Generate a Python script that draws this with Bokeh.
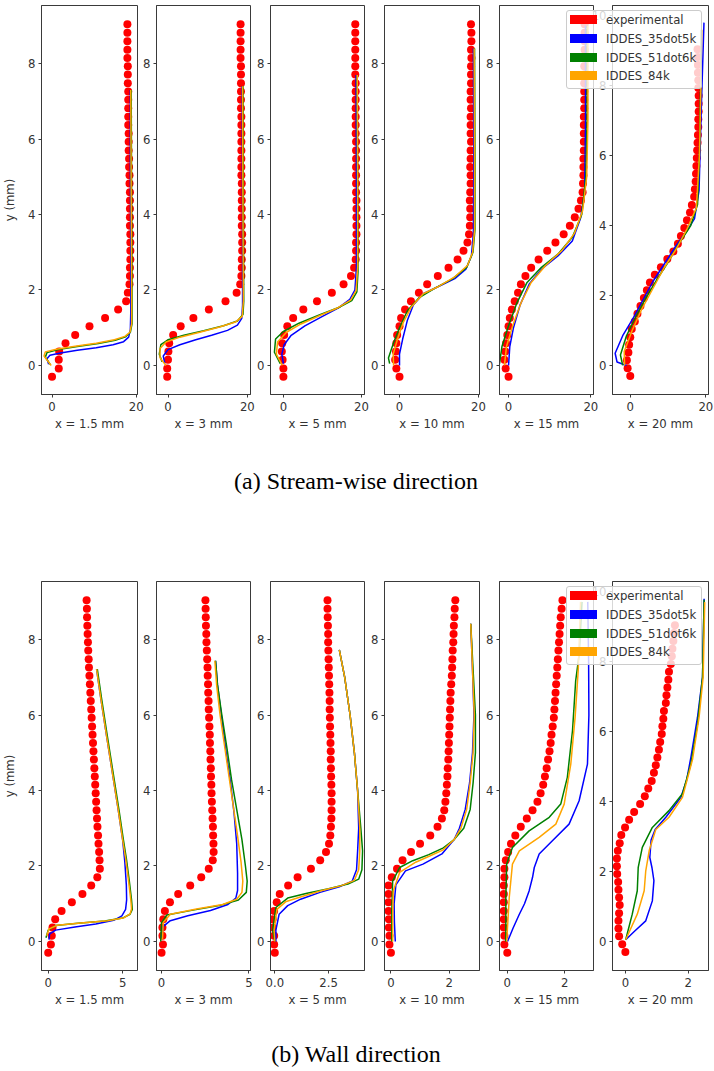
from bokeh.embed import file_html
from bokeh.layouts import column, row
from bokeh.models import Div, FixedTicker, NumeralTickFormatter, Range1d
from bokeh.plotting import figure
from bokeh.resources import INLINE

# heights (mm) of the experimental probe points, same at every station
y_exp = [-0.30, -0.08, 0.15, 0.37, 0.59, 0.81, 1.04, 1.26, 1.48, 1.70,
         1.93, 2.15, 2.37, 2.59, 2.81, 3.04, 3.26, 3.48, 3.70, 3.93,
         4.15, 4.37, 4.59, 4.82, 5.04, 5.26, 5.48, 5.70, 5.93, 6.15,
         6.37, 6.59, 6.82, 7.04, 7.26, 7.48, 7.71, 7.93, 8.15, 8.37,
         8.59, 8.82, 9.04]

stations = ["x = 1.5 mm", "x = 3 mm", "x = 5 mm", "x = 10 mm", "x = 15 mm", "x = 20 mm"]
series = ["experimental", "IDDES_35dot5k", "IDDES_51dot6k", "IDDES_84k"]
series_colors = ["red", "blue", "green", "orange"]

y_ticks = [0, 2, 4, 6, 8]
y_ticks_last = [0, 2, 4, 6, 8, 10]
sw_x_ticks = [[0, 20], [0, 20], [0, 20], [0, 20], [0, 20], [0, 20]]
wl_x_ticks = [[0, 5], [0, 5], [0, 2.5], [0, 2], [0, 2], [0, 2]]
sw_x_fmt = ["0", "0", "0", "0", "0", "0"]
wl_x_fmt = ["0", "0", "0.0", "0", "0", "0"]

sw_x_lim = [(-2.5, 20.3), (-2.9, 20.8), (-3.3, 20.76), (-3.8, 20.25), (-2.2, 20.65), (-4.7, 20.7)]
wl_x_lim = [(-0.45, 6.0), (-0.29, 5.09), (-0.2, 4.17), (-0.22, 3.04), (-0.27, 3.0), (-0.41, 2.65)]
y_lim = (-0.77, 9.54)
y_lim_last = (-0.83, 10.29)

# ---- (a) stream-wise velocity, experimental points
sw_x1p5_exp = [0.0, 1.6, 1.6, 1.7, 3.2, 5.5, 8.9, 12.6, 15.7, 17.6,
               18.0, 18.4, 18.5, 18.5, 18.6, 18.6, 18.6, 18.6, 18.5, 18.5,
               18.5, 18.5, 18.5, 18.4, 18.4, 18.3, 18.3, 18.2, 18.2, 18.2,
               18.1, 18.1, 18.1, 18.1, 18.1, 18.0, 18.0, 18.0, 17.9, 17.9,
               17.9, 17.9, 17.9]
sw_x3_exp = [-0.2, -0.2, 0.0, 0.1, 0.3, 1.3, 3.2, 6.4, 10.3, 14.5,
             17.3, 18.2, 18.5, 18.6, 18.6, 18.7, 18.7, 18.7, 18.6, 18.6,
             18.6, 18.6, 18.6, 18.6, 18.5, 18.5, 18.5, 18.5, 18.5, 18.5,
             18.5, 18.5, 18.4, 18.4, 18.4, 18.4, 18.4, 18.4, 18.3, 18.3,
             18.3, 18.3, 18.3]
sw_x5_exp = [0.0, 0.0, -0.2, -0.4, -0.3, 0.2, 1.0, 2.5, 5.1, 8.6,
             12.4, 15.4, 17.3, 18.1, 18.5, 18.6, 18.6, 18.7, 18.7, 18.7,
             18.7, 18.7, 18.6, 18.6, 18.6, 18.6, 18.6, 18.6, 18.6, 18.5,
             18.5, 18.5, 18.5, 18.5, 18.5, 18.5, 18.4, 18.4, 18.4, 18.4,
             18.4, 18.4, 18.4]
sw_x10_exp = [0.0, -0.8, -1.1, -0.9, -0.8, -0.6, 0.0, 0.4, 1.4, 2.9,
              4.9, 7.0, 9.7, 12.4, 14.7, 16.2, 17.2, 17.6, 17.8, 17.9,
              17.9, 17.8, 17.9, 18.0, 18.0, 17.9, 18.0, 18.0, 18.1, 18.0,
              18.0, 18.0, 18.1, 18.0, 18.0, 18.1, 18.1, 18.1, 18.2, 18.1,
              18.2, 18.2, 18.1]
sw_x15_exp = [0.0, -0.7, -1.0, -0.8, -0.6, -0.3, 0.0, 0.3, 0.8, 1.5,
              2.3, 3.0, 4.1, 5.5, 7.3, 9.4, 11.4, 13.4, 14.9, 16.1,
              17.0, 17.6, 18.0, 18.1, 18.2, 18.2, 18.2, 18.3, 18.3, 18.3,
              18.3, 18.3, 18.4, 18.4, 18.4, 18.4, 18.4, 18.4, 18.4, 18.5,
              18.5, 18.5, 18.5]
sw_x20_exp = [0.0, -0.7, -0.9, -0.5, -0.3, 0.0, 0.4, 1.2, 1.9, 2.7,
              3.6, 4.4, 5.2, 6.5, 8.1, 9.8, 11.4, 12.6, 13.4, 14.3,
              15.0, 15.8, 16.3, 16.9, 17.1, 17.3, 17.4, 17.5, 17.6, 17.7,
              17.8, 17.9, 18.0, 18.0, 18.1, 18.1, 18.1, 18.0, 18.0, 17.9,
              17.9, 17.9, 17.8]

# ---- (a) stream-wise velocity, IDDES runs as (u, y) pairs
sw_x1p5_k35 = [(-0.8, 0.03), (-1.2, 0.18), (-0.5, 0.27), (2.0, 0.33), (6.0, 0.40), (10.5, 0.47), (14.5, 0.55),
               (17.0, 0.63), (18.2, 0.75), (18.6, 0.95), (18.7, 1.4), (18.7, 3.0), (18.6, 5.5), (18.6, 7.3)]
sw_x1p5_k51 = [(-0.4, 0.02), (-1.6, 0.22), (-1.2, 0.34), (1.5, 0.42), (6.0, 0.50), (11.0, 0.58), (15.0, 0.67),
               (17.5, 0.76), (18.6, 0.88), (19.0, 1.1), (19.0, 2.0), (18.9, 4.5), (18.8, 7.3)]
sw_x1p5_k84 = [(-0.2, 0.0), (-1.9, 0.25), (-1.6, 0.36), (1.0, 0.43), (5.5, 0.51), (10.5, 0.59), (14.8, 0.68),
               (17.3, 0.77), (18.5, 0.88), (18.9, 1.1), (18.9, 2.0), (18.8, 4.5), (18.7, 7.3)]

sw_x3_k35 = [(-0.8, 0.05), (-1.2, 0.25), (0.0, 0.42), (3.0, 0.55), (7.0, 0.68), (11.0, 0.80), (15.0, 0.93),
             (17.5, 1.07), (18.6, 1.25), (18.8, 1.6), (18.8, 4.0), (18.7, 7.4)]
sw_x3_k51 = [(-1.5, 0.10), (-2.2, 0.30), (-1.8, 0.55), (0.0, 0.68), (4.0, 0.80), (9.0, 0.92), (14.0, 1.05),
             (17.5, 1.18), (18.9, 1.35), (19.1, 1.7), (19.0, 4.0), (18.9, 7.4)]
sw_x3_k84 = [(-0.5, 0.0), (-2.0, 0.20), (-2.0, 0.45), (-0.5, 0.62), (3.0, 0.75), (8.0, 0.88), (13.0, 1.02),
             (17.0, 1.15), (18.7, 1.3), (19.0, 1.7), (18.9, 4.0), (18.8, 7.4)]

sw_x5_k35 = [(0.0, 0.05), (-0.4, 0.30), (0.2, 0.55), (2.0, 0.80), (5.5, 1.05), (10.0, 1.30), (14.0, 1.52),
             (17.0, 1.75), (18.3, 2.0), (18.7, 2.6), (18.7, 5.0), (18.6, 7.7)]
sw_x5_k51 = [(-0.8, 0.05), (-2.3, 0.35), (-2.0, 0.70), (0.0, 0.90), (4.0, 1.12), (9.5, 1.35), (14.5, 1.55),
             (17.5, 1.72), (18.8, 1.95), (19.1, 2.5), (19.0, 5.0), (18.9, 7.7)]
sw_x5_k84 = [(-0.3, 0.0), (-1.8, 0.30), (-1.5, 0.62), (0.8, 0.88), (4.5, 1.10), (9.5, 1.33), (14.0, 1.53),
             (17.2, 1.73), (18.6, 1.98), (19.0, 2.6), (19.0, 5.0), (18.9, 7.7)]

sw_x10_k35 = [(0.0, 0.0), (0.0, 0.3), (0.8, 0.7), (2.0, 1.2), (3.5, 1.6), (6.0, 1.9), (10.0, 2.1),
              (14.0, 2.3), (16.8, 2.55), (18.2, 2.9), (18.7, 3.5), (18.8, 5.5), (18.7, 8.4)]
sw_x10_k51 = [(-2.5, 0.05), (-2.8, 0.2), (-1.5, 0.6), (0.0, 1.0), (2.0, 1.45), (5.0, 1.8), (9.0, 2.05),
              (13.5, 2.3), (17.0, 2.6), (18.6, 3.0), (19.1, 3.6), (19.1, 5.5), (19.0, 8.4)]
sw_x10_k84 = [(-1.5, 0.0), (-1.6, 0.3), (-0.5, 0.7), (1.0, 1.15), (3.0, 1.55), (6.0, 1.9), (10.0, 2.1),
              (14.0, 2.35), (17.2, 2.65), (18.5, 3.0), (19.0, 3.6), (19.0, 5.5), (18.9, 8.4)]

sw_x15_k35 = [(0.0, 0.0), (0.3, 0.5), (1.2, 1.0), (2.8, 1.6), (5.0, 2.15), (8.0, 2.55), (12.0, 2.9),
              (15.5, 3.3), (17.5, 3.9), (18.5, 4.6), (18.7, 6.5), (18.7, 9.0)]
sw_x15_k51 = [(-2.2, 0.05), (-1.6, 0.5), (0.0, 1.05), (2.0, 1.65), (4.5, 2.2), (8.0, 2.6), (12.0, 2.95),
              (15.5, 3.4), (17.8, 4.0), (18.8, 5.0), (19.1, 6.5), (19.1, 9.0)]
sw_x15_k84 = [(-1.0, 0.0), (-0.5, 0.5), (1.0, 1.05), (3.0, 1.65), (5.5, 2.2), (9.0, 2.65), (13.0, 3.05),
              (16.0, 3.5), (18.0, 4.1), (19.0, 5.0), (19.3, 6.5), (19.3, 9.0)]

sw_x20_k35 = [(-1.0, 0.0), (-3.5, 0.1), (-4.0, 0.35), (-2.0, 0.85), (0.5, 1.3), (3.0, 1.8), (6.0, 2.4),
              (9.0, 2.9), (12.0, 3.4), (15.0, 3.85), (17.0, 4.2), (18.2, 5.0), (18.7, 7.0), (19.5, 9.8)]
sw_x20_k51 = [(-2.0, 0.0), (-2.6, 0.3), (-1.0, 0.85), (1.5, 1.4), (4.0, 1.9), (7.0, 2.45), (10.0, 2.95),
              (13.0, 3.5), (16.0, 4.0), (17.8, 4.6), (18.3, 6.0), (18.6, 8.0), (18.8, 9.6)]
sw_x20_k84 = [(-1.5, 0.0), (-1.6, 0.4), (0.5, 1.0), (3.0, 1.6), (6.0, 2.2), (9.0, 2.8), (12.0, 3.3),
              (15.0, 3.9), (17.5, 4.5), (18.3, 6.0), (18.7, 8.0), (18.9, 9.6)]

# ---- (b) wall-normal velocity, experimental points
wl_x1p5_exp = [0.0, 0.18, 0.24, 0.29, 0.47, 0.9, 1.59, 2.3, 2.89, 3.3,
               3.47, 3.45, 3.42, 3.38, 3.35, 3.31, 3.28, 3.25, 3.22, 3.19,
               3.16, 3.13, 3.10, 3.07, 3.04, 3.01, 2.98, 2.95, 2.92, 2.89,
               2.86, 2.83, 2.80, 2.77, 2.74, 2.72, 2.69, 2.67, 2.65, 2.63,
               2.61, 2.60, 2.58]
wl_x3_exp = [0.0, 0.08, 0.05, 0.05, 0.1, 0.19, 0.48, 0.95, 1.64, 2.27,
             2.7, 2.93, 2.98, 2.97, 2.95, 2.94, 2.92, 2.90, 2.88, 2.86,
             2.85, 2.83, 2.82, 2.80, 2.79, 2.77, 2.76, 2.74, 2.72, 2.70,
             2.69, 2.67, 2.66, 2.64, 2.63, 2.61, 2.59, 2.57, 2.56, 2.54,
             2.53, 2.52, 2.51]
wl_x5_exp = [0.0, -0.03, -0.03, -0.1, -0.1, -0.03, 0.09, 0.23, 0.62, 1.06,
             1.68, 2.11, 2.38, 2.52, 2.58, 2.61, 2.63, 2.64, 2.64, 2.64,
             2.63, 2.62, 2.61, 2.60, 2.60, 2.59, 2.58, 2.57, 2.56, 2.55,
             2.55, 2.54, 2.53, 2.52, 2.51, 2.50, 2.49, 2.48, 2.48, 2.47,
             2.46, 2.45, 2.45]
wl_x10_exp = [0.0, -0.05, -0.05, -0.07, -0.07, -0.08, -0.08, -0.08, -0.08, 0.03,
              0.21, 0.40, 0.69, 1.00, 1.35, 1.60, 1.75, 1.83, 1.87, 1.90,
              1.92, 1.94, 1.95, 1.97, 1.98, 1.99, 2.00, 2.01, 2.02, 2.03,
              2.04, 2.05, 2.07, 2.09, 2.10, 2.11, 2.12, 2.14, 2.15, 2.16,
              2.18, 2.19, 2.21]
wl_x15_exp = [0.0, -0.1, -0.1, -0.12, -0.12, -0.12, -0.12, -0.12, -0.12, -0.1,
              -0.1, -0.05, 0.03, 0.13, 0.28, 0.47, 0.68, 0.88, 1.05, 1.16,
              1.25, 1.31, 1.37, 1.42, 1.47, 1.51, 1.54, 1.58, 1.62, 1.64,
              1.66, 1.68, 1.70, 1.72, 1.74, 1.76, 1.78, 1.80, 1.82, 1.84,
              1.86, 1.89, 1.92]
wl_x20_exp = [0.0, -0.1, -0.2, -0.22, -0.22, -0.2, -0.18, -0.2, -0.22, -0.23,
              -0.26, -0.27, -0.27, -0.24, -0.18, -0.13, -0.01, 0.12, 0.28, 0.47,
              0.62, 0.73, 0.84, 0.91, 0.97, 1.02, 1.07, 1.11, 1.16, 1.18,
              1.21, 1.23, 1.29, 1.31, 1.34, 1.37, 1.39, 1.45, 1.48, 1.50,
              1.53, 1.55, 1.58]

# ---- (b) wall-normal velocity, IDDES runs as (v, y) pairs
wl_x1p5_k35 = [(0.05, 0.05), (0.1, 0.2), (0.5, 0.3), (1.8, 0.38), (3.2, 0.46), (4.4, 0.56), (4.95, 0.68),
               (5.2, 0.85), (5.27, 1.1), (5.25, 1.5), (5.15, 2.1), (5.0, 2.7), (4.7, 3.5), (4.3, 4.5),
               (3.9, 5.5), (3.55, 6.4), (3.25, 7.22)]
wl_x1p5_k51 = [(-0.15, 0.1), (0.0, 0.3), (0.5, 0.42), (2.0, 0.48), (3.8, 0.54), (5.0, 0.62), (5.5, 0.72),
               (5.65, 0.85), (5.6, 1.1), (5.45, 1.6), (5.25, 2.2), (5.05, 2.7), (4.75, 3.5), (4.35, 4.5),
               (3.95, 5.5), (3.6, 6.4), (3.3, 7.22)]
wl_x1p5_k84 = [(-0.1, 0.15), (0.05, 0.33), (0.6, 0.43), (2.2, 0.49), (4.0, 0.55), (5.1, 0.63), (5.5, 0.73),
               (5.6, 0.86), (5.55, 1.1), (5.4, 1.6), (5.2, 2.2), (5.0, 2.7), (4.7, 3.5), (4.3, 4.5),
               (3.9, 5.5), (3.55, 6.4), (3.25, 7.22)]

wl_x3_k35 = [(0.0, 0.1), (0.1, 0.4), (0.5, 0.55), (1.5, 0.68), (2.8, 0.82), (3.8, 0.98), (4.25, 1.15),
             (4.35, 1.35), (4.35, 1.8), (4.3, 2.6), (4.15, 3.4), (3.95, 4.2), (3.7, 5.0), (3.45, 5.9),
             (3.2, 6.8), (3.09, 7.44)]
wl_x3_k51 = [(-0.05, 0.0), (0.0, 0.5), (0.3, 0.7), (1.8, 0.83), (3.3, 0.95), (4.4, 1.1), (4.85, 1.3),
             (4.9, 1.6), (4.8, 2.0), (4.6, 2.7), (4.3, 3.5), (4.0, 4.3), (3.75, 5.1), (3.45, 6.0),
             (3.2, 6.8), (3.09, 7.44)]
wl_x3_k84 = [(0.05, 0.05), (0.1, 0.5), (0.5, 0.72), (2.0, 0.86), (3.5, 0.98), (4.3, 1.12), (4.6, 1.3),
             (4.65, 1.6), (4.55, 2.1), (4.35, 2.8), (4.1, 3.6), (3.85, 4.4), (3.6, 5.2), (3.35, 6.0),
             (3.15, 6.8), (3.05, 7.44)]

wl_x5_k35 = [(0.05, 0.0), (0.05, 0.3), (0.2, 0.72), (0.6, 0.95), (1.2, 1.12), (2.1, 1.3), (3.0, 1.45),
             (3.6, 1.6), (3.8, 1.9), (3.85, 2.4), (3.9, 3.0), (3.85, 4.0), (3.7, 5.0), (3.5, 6.0),
             (3.25, 7.0), (3.0, 7.73)]
wl_x5_k51 = [(0.0, 0.0), (-0.1, 0.3), (0.05, 0.9), (0.6, 1.15), (1.5, 1.28), (2.5, 1.4), (3.4, 1.52),
             (3.9, 1.65), (4.05, 1.9), (4.08, 2.4), (4.0, 3.0), (3.85, 4.0), (3.7, 5.0), (3.5, 6.0),
             (3.25, 7.0), (3.0, 7.73)]
wl_x5_k84 = [(0.0, 0.0), (-0.03, 0.3), (0.1, 0.85), (0.5, 1.05), (1.3, 1.2), (2.2, 1.35), (3.1, 1.48),
             (3.7, 1.62), (3.9, 1.9), (3.95, 2.4), (3.95, 3.0), (3.85, 4.0), (3.7, 5.0), (3.5, 6.0),
             (3.25, 7.0), (3.0, 7.73)]

wl_x10_k35 = [(0.15, 0.0), (0.12, 0.5), (0.11, 1.0), (0.17, 1.5), (0.5, 1.87), (1.1, 2.05), (1.75, 2.32),
              (2.17, 2.7), (2.35, 3.0), (2.55, 3.5), (2.7, 4.2), (2.8, 5.0), (2.85, 6.0), (2.8, 7.2), (2.74, 8.42)]
wl_x10_k51 = [(0.03, 0.0), (0.03, 0.8), (0.06, 1.6), (0.3, 1.96), (0.75, 2.14), (1.3, 2.3), (1.8, 2.48),
              (2.17, 2.7), (2.5, 3.0), (2.72, 3.5), (2.82, 4.2), (2.9, 5.0), (2.9, 6.0), (2.82, 7.2), (2.74, 8.42)]
wl_x10_k84 = [(0.06, 0.0), (0.06, 0.7), (0.08, 1.34), (0.3, 1.83), (0.85, 2.1), (1.35, 2.27), (1.78, 2.42),
              (2.17, 2.7), (2.4, 3.0), (2.6, 3.5), (2.72, 4.2), (2.82, 5.0), (2.86, 6.0), (2.8, 7.2), (2.74, 8.42)]

wl_x15_k35 = [(0.01, 0.0), (0.2, 0.35), (0.42, 0.72), (0.6, 1.0), (0.76, 1.34), (0.88, 1.7), (0.94, 1.96),
              (1.11, 2.32), (1.57, 2.67), (2.15, 3.11), (2.5, 3.73), (2.79, 4.7), (2.84, 6.0), (2.83, 7.44),
              (2.8, 9.0)]
wl_x15_k51 = [(-0.05, 0.0), (-0.05, 1.17), (-0.02, 2.05), (0.18, 2.49), (0.76, 2.93), (1.46, 3.29),
              (1.86, 3.64), (2.09, 4.35), (2.27, 5.59), (2.38, 6.91), (2.5, 7.6), (2.6, 9.0)]
wl_x15_k84 = [(-0.02, 0.0), (0.07, 1.17), (0.18, 2.05), (0.42, 2.4), (1.11, 2.76), (1.69, 3.11),
              (1.98, 3.64), (2.21, 4.7), (2.36, 5.94), (2.47, 7.2), (2.55, 9.0)]

wl_x20_k35 = [(0.01, 0.05), (0.3, 0.3), (0.65, 0.59), (0.86, 1.16), (0.91, 1.74), (0.85, 2.1), (0.78, 2.4),
              (0.82, 2.9), (0.95, 3.2), (1.29, 3.55), (1.77, 4.12), (1.95, 4.6), (2.09, 5.27), (2.3, 6.41),
              (2.46, 7.56), (2.51, 9.8)]
wl_x20_k51 = [(0.01, 0.05), (0.22, 0.78), (0.38, 1.45), (0.41, 2.12), (0.54, 2.69), (0.86, 3.26),
              (1.39, 3.74), (1.82, 4.22), (2.09, 5.08), (2.3, 6.22), (2.46, 7.56), (2.51, 9.77)]
wl_x20_k84 = [(0.01, 0.05), (0.38, 0.78), (0.6, 1.45), (0.65, 2.02), (0.76, 2.6), (0.97, 3.2),
              (1.39, 3.55), (1.82, 4.12), (2.14, 5.2), (2.35, 6.41), (2.48, 7.56), (2.53, 9.7)]

sw_exp = [sw_x1p5_exp, sw_x3_exp, sw_x5_exp, sw_x10_exp, sw_x15_exp, sw_x20_exp]
sw_runs = [[sw_x1p5_k35, sw_x1p5_k51, sw_x1p5_k84], [sw_x3_k35, sw_x3_k51, sw_x3_k84],
           [sw_x5_k35, sw_x5_k51, sw_x5_k84], [sw_x10_k35, sw_x10_k51, sw_x10_k84],
           [sw_x15_k35, sw_x15_k51, sw_x15_k84], [sw_x20_k35, sw_x20_k51, sw_x20_k84]]
wl_exp = [wl_x1p5_exp, wl_x3_exp, wl_x5_exp, wl_x10_exp, wl_x15_exp, wl_x20_exp]
wl_runs = [[wl_x1p5_k35, wl_x1p5_k51, wl_x1p5_k84], [wl_x3_k35, wl_x3_k51, wl_x3_k84],
           [wl_x5_k35, wl_x5_k51, wl_x5_k84], [wl_x10_k35, wl_x10_k51, wl_x10_k84],
           [wl_x15_k35, wl_x15_k51, wl_x15_k84], [wl_x20_k35, wl_x20_k51, wl_x20_k84]]

FONT = "DejaVu Sans"
FONT_SIZE = "11.7px"
TXT = "#333333"
AX = "#3a3a3a"

# where each panel frame sits on the page (px) - panels overlap through
# transparent borders, so the frames can be put exactly where they belong
frame_x = [39, 154, 268, 382, 497, 610]
frame_w = [96, 94, 94, 95, 94, 96]
border_l = [39, 24, 24, 24, 24, 28]
border_r = 8
legend_x, legend_w, legend_h = 564, 136, 79


def make_panel(i, exp_u, runs, x_lim, x_ticks, x_fmt, shift):
    last = i == len(stations) - 1
    p = figure(x_range=Range1d(*x_lim), y_range=Range1d(*(y_lim_last if last else y_lim)),
               frame_width=frame_w[i], frame_height=389,
               min_border_left=border_l[i], min_border_right=border_r,
               min_border_top=5, min_border_bottom=40,
               x_axis_label=stations[i], y_axis_label="y (mm)" if i == 0 else None,
               title=None, output_backend="svg", toolbar_location=None,
               margin=(0, 0, 0, shift))
    p.grid.visible = False
    p.outline_line_color = AX
    p.border_fill_alpha = 0

    p.scatter(exp_u, y_exp, size=8, fill_color=series_colors[0], line_color=None)
    for run, color in zip(runs, series_colors[1:]):
        u, y = zip(*run)
        p.line(list(u), list(y), line_color=color, line_width=1.5)

    for ax in p.axis:
        ax.axis_line_color = AX
        ax.major_tick_line_color = AX
        ax.major_tick_out = 3
        ax.major_tick_in = 0
        ax.minor_tick_line_color = None
        ax.major_label_text_font = FONT
        ax.major_label_text_font_size = FONT_SIZE
        ax.major_label_text_color = TXT
        ax.axis_label_text_font = FONT
        ax.axis_label_text_font_size = FONT_SIZE
        ax.axis_label_text_font_style = "normal"
        ax.axis_label_text_color = TXT
    p.xaxis.ticker = FixedTicker(ticks=x_ticks)
    p.xaxis.formatter = NumeralTickFormatter(format=x_fmt)
    p.xaxis.major_label_standoff = 4
    p.xaxis.axis_label_standoff = 3
    p.yaxis.ticker = FixedTicker(ticks=y_ticks_last if last else y_ticks)
    p.yaxis.major_label_standoff = 3
    p.yaxis.axis_label_standoff = 8
    return p


def legend_div(shift):
    rows = "".join(
        '<div style="height:18.8px;line-height:18.8px;white-space:nowrap;">'
        '<span style="display:inline-block;width:27px;height:9px;background:%s;'
        'vertical-align:middle;margin:0 9px 2px 0;"></span>%s</div>' % (c, s)
        for c, s in zip(series_colors, series))
    html = ('<div style="box-sizing:border-box;width:%dpx;height:%dpx;border:1px solid #cccccc;'
            'border-radius:3px;background:rgba(255,255,255,0.8);padding:0 3px;'
            'font-family:\'DejaVu Sans\';font-size:11.7px;color:#333333;">%s</div>'
            % (legend_w, legend_h, rows))
    return Div(text=html, width=legend_w, height=legend_h, margin=(10, 0, 0, shift))


def panel_row(exp, runs, x_lim, x_ticks, x_fmt):
    kids, right = [], 0
    for i in range(len(stations)):
        shift = frame_x[i] - border_l[i] - right
        kids.append(make_panel(i, exp[i], runs[i], x_lim[i], x_ticks[i], x_fmt[i], shift))
        right = frame_x[i] + frame_w[i] + border_r
    kids.append(legend_div(legend_x - right))
    return row(kids, spacing=0)


def caption(text, height, pad):
    html = ('<div style="font-family:\'Liberation Serif\';font-size:24px;line-height:27px;'
            'color:#000;padding-top:%dpx;">%s</div>' % (pad, text))
    return Div(text=html, width=712, height=height, margin=0, styles={"text-align": "center"})


top = panel_row(sw_exp, sw_runs, sw_x_lim, sw_x_ticks, sw_x_fmt)
bottom = panel_row(wl_exp, wl_runs, wl_x_lim, wl_x_ticks, wl_x_fmt)

page = column(top, caption("(a) Stream-wise direction", 142, 34),
              bottom, caption("(b) Wall direction", 58, 31), spacing=0)

open("out.html", "w").write(file_html(page, INLINE, title="Velocity profiles"))
